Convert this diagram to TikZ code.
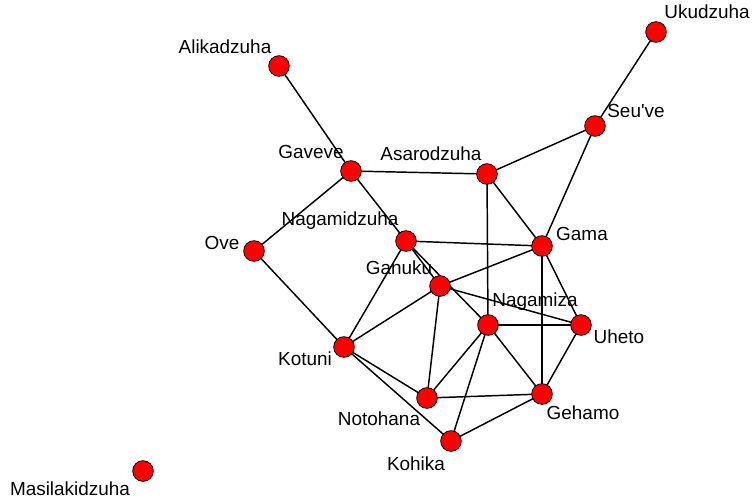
\documentclass[tikz,border=0pt]{standalone}
\usepackage{fontspec}
\setmainfont{Liberation Sans}
\usetikzlibrary{backgrounds}
\tikzset{
  vert/.style={circle, draw=black, fill=red, minimum size=15.5pt, inner sep=0pt, line width=0.6pt},
  lbl/.style={font=\fontsize{14.2}{16}\selectfont, inner sep=0pt},
  edge/.style={line width=1.1pt, black}
}
\begin{document}
\begin{tikzpicture}[x=0.75pt, y=-0.75pt]
\useasboundingbox (0,0) rectangle (753,501);
% vertices
\node[vert] (ukud) at (656,32) {};
\node[vert] (alik) at (279,66) {};
\node[vert] (seuv) at (595,126) {};
\node[vert] (gave) at (351,171) {};
\node[vert] (asar) at (487,174) {};
\node[vert] (nagd) at (406,241) {};
\node[vert] (gama) at (542,246) {};
\node[vert] (ove) at (254,251) {};
\node[vert] (ganu) at (440,286) {};
\node[vert] (nagz) at (488,325) {};
\node[vert] (uhet) at (581,325) {};
\node[vert] (kotu) at (344,347) {};
\node[vert] (noto) at (427,398) {};
\node[vert] (geha) at (542,394) {};
\node[vert] (kohi) at (451,441) {};
\node[vert] (masi) at (143,471) {};
% names
\node[lbl] (ukud-l) at (707,12) {Ukudzuha};
\node[lbl] (alik-l) at (225,47) {Alikadzuha};
\node[lbl] (seuv-l) at (636,111) {Seu\textquotesingle ve};
\node[lbl] (gave-l) at (311,152) {Gaveve};
\node[lbl] (asar-l) at (431,154) {Asarodzuha};
\node[lbl] (nagd-l) at (340,221) {Nagamidzuha};
\node[lbl] (gama-l) at (582,234) {Gama};
\node[lbl] (ove-l) at (222,243) {Ove};
\node[lbl] (ganu-l) at (399,268) {Ganuku};
\node[lbl] (nagz-l) at (535,302) {Nagamiza};
\node[lbl] (uhet-l) at (619,337) {Uheto};
\node[lbl] (kotu-l) at (305,359) {Kotuni};
\node[lbl] (noto-l) at (379,419) {Notohana};
\node[lbl] (geha-l) at (583,413) {Gehamo};
\node[lbl] (kohi-l) at (416,464) {Kohika};
\node[lbl] (masi-l) at (70,489) {Masilakidzuha};
% ties
\begin{scope}[on background layer]
\draw[edge] (ukud.center) -- (seuv.center);
\draw[edge] (alik.center) -- (gave.center);
\draw[edge] (seuv.center) -- (asar.center);
\draw[edge] (seuv.center) -- (gama.center);
\draw[edge] (gave.center) -- (asar.center);
\draw[edge] (gave.center) -- (ove.center);
\draw[edge] (gave.center) -- (nagd.center);
\draw[edge] (asar.center) -- (gama.center);
\draw[edge] (asar.center) -- (nagz.center);
\draw[edge] (ove.center) -- (kotu.center);
\draw[edge] (nagd.center) -- (gama.center);
\draw[edge] (nagd.center) -- (kotu.center);
\draw[edge] (nagd.center) -- (ganu.center);
\draw[edge] (nagd.center) -- (nagz.center);
\draw[edge] (ganu.center) -- (gama.center);
\draw[edge] (ganu.center) -- (kotu.center);
\draw[edge] (ganu.center) -- (noto.center);
\draw[edge] (ganu.center) -- (uhet.center);
\draw[edge] (nagz.center) -- (uhet.center);
\draw[edge] (nagz.center) -- (noto.center);
\draw[edge] (nagz.center) -- (kohi.center);
\draw[edge] (nagz.center) -- (geha.center);
\draw[edge] (gama.center) -- (uhet.center);
\draw[edge] (gama.center) -- (geha.center);
\draw[edge] (uhet.center) -- (geha.center);
\draw[edge] (kotu.center) -- (noto.center);
\draw[edge] (kotu.center) -- (kohi.center);
\draw[edge] (noto.center) -- (geha.center);
\draw[edge] (kohi.center) -- (geha.center);
\end{scope}
\end{tikzpicture}
\end{document}
